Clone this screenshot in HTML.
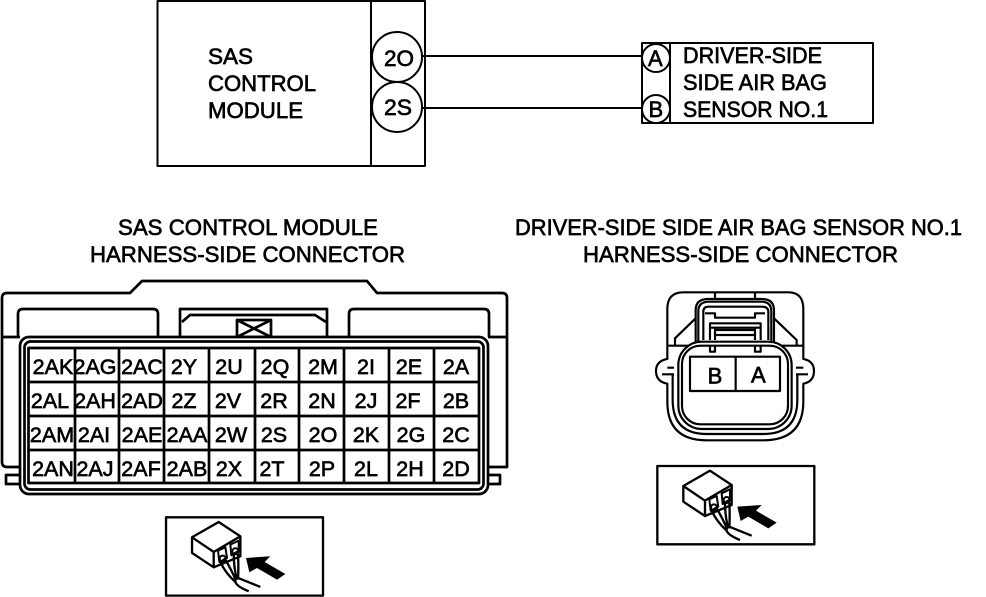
<!DOCTYPE html>
<html><head><meta charset="utf-8"><style>
html,body{margin:0;padding:0;background:#fff}
svg{display:block}
text{font-family:"Liberation Sans",sans-serif;fill:#000;stroke:#000;stroke-width:.65}
.l{fill:none;stroke:#000;stroke-width:2.7;stroke-linejoin:round}
.g text{font-size:21.5px;text-anchor:middle}
.t text{font-size:22px}
</style></head><body>
<svg width="986" height="597" viewBox="0 0 986 597" xmlns="http://www.w3.org/2000/svg">
<rect width="986" height="597" fill="#fff"/>
<!-- top left -->
<g class="l">
<rect x="157.500" y="1" width="267.500" height="165" stroke-width="2"/>
<path d="M371 0V166" stroke-width="2"/>
<circle cx="397" cy="57" r="25" fill="#fff" stroke-width="2"/>
<circle cx="397" cy="107" r="25" fill="#fff" stroke-width="2"/>
<path d="M422 56H641M422 108H641" stroke-width="2"/>
<rect x="642" y="43" width="231" height="80" stroke-width="2"/>
<path d="M670 43V123" stroke-width="2"/>
<circle cx="656" cy="58" r="14" fill="#fff" stroke-width="2"/>
<circle cx="656" cy="109" r="14" fill="#fff" stroke-width="2"/>
</g>
<g class="t">
<text x="208" y="64" textLength="45" lengthAdjust="spacingAndGlyphs">SAS</text>
<text x="208" y="91" textLength="108" lengthAdjust="spacingAndGlyphs">CONTROL</text>
<text x="208" y="118" textLength="95" lengthAdjust="spacingAndGlyphs">MODULE</text>
<text x="384" y="66" textLength="30" lengthAdjust="spacingAndGlyphs">2O</text>
<text x="384" y="115" textLength="28" lengthAdjust="spacingAndGlyphs">2S</text>
<text x="648" y="66">A</text>
<text x="648.500" y="117">B</text>
<text x="683" y="63" textLength="139" lengthAdjust="spacingAndGlyphs">DRIVER-SIDE</text>
<text x="683" y="90" textLength="144" lengthAdjust="spacingAndGlyphs">SIDE AIR BAG</text>
<text x="683" y="117" textLength="145" lengthAdjust="spacingAndGlyphs">SENSOR NO.1</text>
<text x="118" y="235" textLength="260" lengthAdjust="spacingAndGlyphs">SAS CONTROL MODULE</text>
<text x="90" y="262" textLength="315" lengthAdjust="spacingAndGlyphs">HARNESS-SIDE CONNECTOR</text>
<text x="515" y="235" textLength="447" lengthAdjust="spacingAndGlyphs">DRIVER-SIDE SIDE AIR BAG SENSOR NO.1</text>
<text x="583" y="262" textLength="315" lengthAdjust="spacingAndGlyphs">HARNESS-SIDE CONNECTOR</text>
</g>
<!-- left connector -->
<g class="l">
<path d="M20 467H7Q2 467 2 462V298Q2 293 7 293H130L142 281H367L377 293H502Q507 293 507 298V467H488"/>
<path d="M2 337H20M488 337H507"/>
<path d="M20 475H6V484H20M488 475H500V484H488"/>
<path d="M18 337V314Q18 309 23 309H153Q158 309 158 314V337"/>
<path d="M349 337V314Q349 309 354 309H484Q489 309 489 314V337"/>
<path d="M180 337V309H327V337"/>
<path d="M182 322L190 315H315L326 322"/>
<rect x="237" y="320" width="34" height="17"/>
<path d="M237 320L271 337M271 320L237 337"/>
<rect x="20" y="337" width="468" height="157" rx="9" fill="#fff"/>
<rect x="24.500" y="341.500" width="459" height="148" rx="6"/>
<rect x="28.500" y="348" width="450.500" height="135"/>
<path d="M75 348V483M119 348V483M164 348V483M209 348V483M255 348V483M299 348V483M344 348V483M389 348V483M434 348V483"/>
<path d="M28 382H479M28 416H479M28 450H479"/>
</g>
<g class="g">
<text x="53" y="374">2AK</text><text x="95" y="374">2AG</text><text x="142" y="374">2AC</text><text x="184" y="374">2Y</text><text x="229" y="374">2U</text><text x="275" y="374">2Q</text><text x="323" y="374">2M</text><text x="366" y="374">2I</text><text x="409" y="374">2E</text><text x="456" y="374">2A</text>
<text x="50" y="408">2AL</text><text x="95" y="408">2AH</text><text x="142" y="408">2AD</text><text x="184" y="408">2Z</text><text x="228" y="408">2V</text><text x="274" y="408">2R</text><text x="322" y="408">2N</text><text x="366" y="408">2J</text><text x="408" y="408">2F</text><text x="456" y="408">2B</text>
<text x="52" y="442">2AM</text><text x="94" y="442">2AI</text><text x="142" y="442">2AE</text><text x="187" y="442">2AA</text><text x="231" y="442">2W</text><text x="274" y="442">2S</text><text x="323" y="442">2O</text><text x="366" y="442">2K</text><text x="411" y="442">2G</text><text x="456" y="442">2C</text>
<text x="53" y="476">2AN</text><text x="95" y="476">2AJ</text><text x="141" y="476">2AF</text><text x="187" y="476">2AB</text><text x="229" y="476">2X</text><text x="272" y="476">2T</text><text x="322" y="476">2P</text><text x="366" y="476">2L</text><text x="410" y="476">2H</text><text x="456" y="476">2D</text>
</g>
<!-- right connector -->
<g transform="translate(650 285) scale(.3333)">
<g fill="none" stroke="#000" stroke-width="6.500" stroke-linejoin="round">
<path d="M52 222V72Q52 22 100 22H415Q460 22 460 72V222Q492 228 492 258Q492 290 460 296V350Q460 466 340 466H170Q52 466 52 350V296Q18 290 18 258Q18 228 52 222Z"/>
<path d="M195 22V40M315 22V40"/>
<path d="M137 170V75Q137 42 175 42H335Q372 42 372 75V170"/>
<path d="M145 168V78Q145 50 178 50H332Q364 50 364 78V168"/>
<path d="M160 165V80Q160 65 175 65H335Q355 65 355 80V165"/>
<path d="M165 85H195V98H315V85H345"/>
<path d="M180 115H332V128H180ZM180 128V165M195 128V165M315 128V165M332 128V165M195 135H315M195 150H315"/>
<path d="M137 100L75 160V182M372 100L440 165V182"/>
<path d="M52 182H120M395 182H460M52 248H72M438 248H460M36 268H72M438 268H474"/>
<path d="M68 270V345Q68 447 170 447H340Q442 447 442 345V270"/>
<rect x="85" y="170" width="340" height="262" rx="70" fill="#fff"/>
<rect x="96" y="182" width="318" height="236" rx="55"/>
<path d="M180 182V200H195V182M315 182V200H332V182"/>
<rect x="120" y="215" width="270" height="103"/>
<path d="M257 215V318"/>
</g>
<text x="195" y="295" text-anchor="middle" style="font-size:66px;stroke-width:2">B</text>
<text x="325" y="293" text-anchor="middle" style="font-size:66px;stroke-width:2">A</text>
</g>
<!-- icons -->
<g transform="translate(650 460) scale(.3333)">
<g fill="none" stroke="#000" stroke-width="7" stroke-linejoin="round">
<rect x="22" y="18" width="471" height="235" stroke-width="7"/>
<path d="M100 78L180 32L245 75L165 122ZM100 78V125L165 168V122M245 75V135L165 168"/>
<path d="M178 118L200 108L205 140L182 152ZM215 100L240 88L240 118L218 132Z" stroke-width="6"/>
<circle cx="192" cy="142" r="9" stroke-width="6"/><circle cx="230" cy="120" r="9" stroke-width="6"/>
<path d="M185 152Q200 185 230 212M197 140Q218 175 232 208M225 125Q225 170 235 205M238 128Q240 170 238 205"/>
<path d="M230 205Q225 222 270 240M238 200L305 227"/>
</g>
<path d="M262 140L335 135L318 152L380 188L355 205L295 170L272 183Z" fill="#000"/>
</g>
<g transform="translate(158.700 511.300) scale(.3333)">
<g fill="none" stroke="#000" stroke-width="7" stroke-linejoin="round">
<rect x="22" y="18" width="471" height="235" stroke-width="7"/>
<path d="M100 78L180 32L245 75L165 122ZM100 78V125L165 168V122M245 75V135L165 168"/>
<path d="M178 118L200 108L205 140L182 152ZM215 100L240 88L240 118L218 132Z" stroke-width="6"/>
<circle cx="192" cy="142" r="9" stroke-width="6"/><circle cx="230" cy="120" r="9" stroke-width="6"/>
<path d="M185 152Q200 185 230 212M197 140Q218 175 232 208M225 125Q225 170 235 205M238 128Q240 170 238 205"/>
<path d="M230 205Q225 222 270 240M238 200L305 227"/>
</g>
<path d="M262 140L335 135L318 152L380 188L355 205L295 170L272 183Z" fill="#000"/>
</g>
</svg>
</body></html>
